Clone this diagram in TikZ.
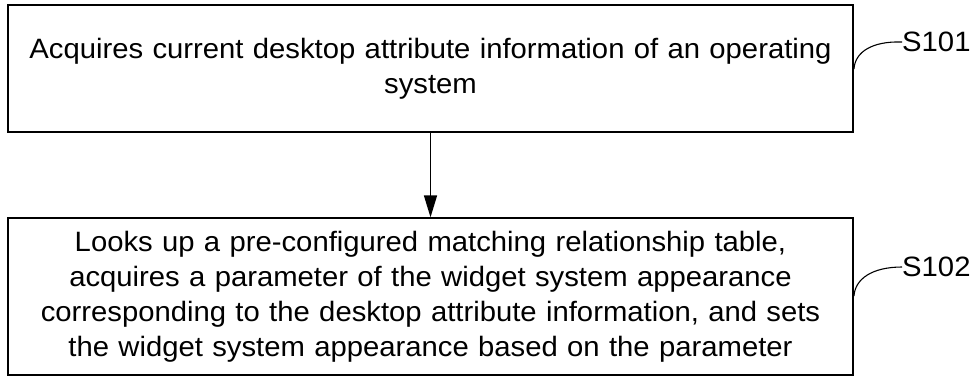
\documentclass[tikz,border=0pt]{standalone}
\usepackage{fontspec}
\setmainfont{Liberation Sans}[FakeStretch=1.045]
\usetikzlibrary{arrows.meta}
\begin{document}
\begin{tikzpicture}[x=1pt,y=-1pt,
  stepbox/.style={draw, line width=1.3pt, rectangle, align=center, text width=840pt,
    font=\fontsize{28}{35}\selectfont, inner sep=0pt},
  lbl/.style={anchor=west, font=\fontsize{28}{32}\selectfont, inner sep=0pt},
  conn/.style={line width=1.5pt, -{Triangle[length=22pt,width=13pt]}},
  lead/.style={line width=1.1pt}]
\useasboundingbox (0,0) rectangle (977,376);
\node[stepbox, minimum width=845pt, minimum height=127pt] (b1) at (430.5,68.5)
  {Acquires current desktop attribute information of an operating\\system};
\node[stepbox, minimum width=845pt, minimum height=157pt] (b2) at (430.5,296.5)
  {Looks up a pre-configured matching relationship table,\\acquires a parameter of the widget system appearance\\corresponding to the desktop attribute information, and sets\\the widget system appearance based on the parameter};
\draw[conn] (b1.south) -- (b2.north);
\node[lbl] (s1) at (902,42) {S101};
\node[lbl] (s2) at (902,267) {S102};
\coordinate (c1) at (854,69);
\coordinate (c2) at (854,296);
\draw[lead] (c1) .. controls (855,52) and (872,41) .. (s1.west);
\draw[lead] (c2) .. controls (855,279) and (872,267) .. (s2.west);
\end{tikzpicture}
\end{document}
